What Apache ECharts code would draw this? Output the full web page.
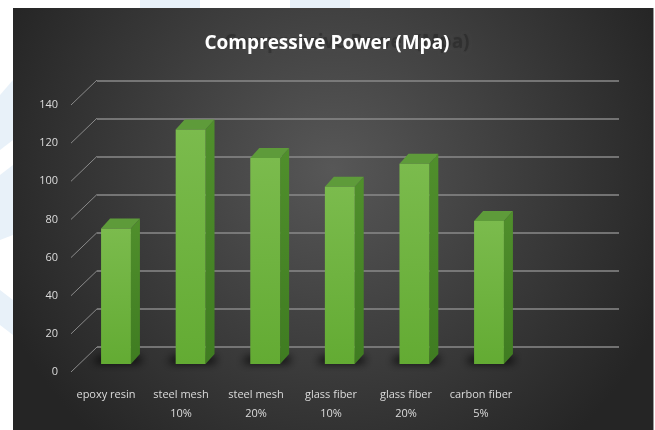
<!DOCTYPE html>
<html>
<head>
    <meta charset="utf-8">
    <title>Compressive Power (Mpa)</title>
    <script src="https://cdn.jsdelivr.net/npm/echarts@6/dist/echarts.min.js"></script>
    <style>
        html, body { margin: 0; padding: 0; background: #ffffff; }
        #chart { width: 655px; height: 430px; }
    </style>
</head>
<body>
<div id="chart"></div>
<script>
    // data
    var categories = ['epoxy resin', 'steel mesh\n10%', 'steel mesh\n20%', 'glass fiber\n10%', 'glass fiber\n20%', 'carbon fiber\n5%'];
    var values = [71, 123, 108, 93, 105, 75];
    var yTicks = [0, 20, 40, 60, 80, 100, 120, 140];

    var font = "'Open Sans', sans-serif";
    var chart = echarts.init(document.getElementById('chart'));

    // oblique depth of the floor (front edge -> back wall)
    var depthX = 26, depthY = 25;
    var barDX = 9, barDY = 10;
    var far = 2000; // shadow is drawn off-canvas and cast back, so only the blur shows

    function renderDiag(params, api) {
        var p = api.coord([0, api.value(0)]);
        return {
            type: 'line',
            shape: { x1: p[0], y1: p[1], x2: p[0] + depthX, y2: p[1] - depthY },
            style: { stroke: '#8a8a8a', lineWidth: 1 }
        };
    }

    function renderBar(params, api) {
        var base = api.coord([api.value(0), 0]);
        var top = api.coord([api.value(0), api.value(1)]);
        var w = api.size([1, 0])[0] * 0.4;
        var x0 = base[0] - w / 2, x1 = base[0] + w / 2;
        var yb = base[1], yt = top[1];
        return {
            type: 'group',
            children: [
                {   // floor shadow
                    type: 'polygon',
                    shape: { points: [[x0 - 8 + far, yb - 1], [x1 + barDX + far, yb - 1], [x1 + barDX + 2 + far, yb - barDY + 3], [x0 - 3 + far, yb - barDY + 3]] },
                    style: { fill: '#000', shadowBlur: 9, shadowColor: 'rgba(0,0,0,0.95)', shadowOffsetX: -far }
                },
                {   // side
                    type: 'polygon',
                    shape: { points: [[x1, yt], [x1 + barDX, yt - barDY], [x1 + barDX, yb - barDY], [x1, yb]] },
                    style: { fill: new echarts.graphic.LinearGradient(0, 0, 0, 1, [
                        { offset: 0, color: '#508f2c' }, { offset: 1, color: '#3f7c21' }]) }
                },
                {   // top
                    type: 'polygon',
                    shape: { points: [[x0, yt], [x0 + barDX, yt - barDY], [x1 + barDX, yt - barDY], [x1, yt]] },
                    style: { fill: '#5e9b3a' }
                },
                {   // front
                    type: 'rect',
                    shape: { x: x0, y: yt, width: w, height: yb - yt },
                    style: { fill: new echarts.graphic.LinearGradient(0, 0, 0, 1, [
                        { offset: 0, color: '#7bbb4d' }, { offset: 1, color: '#63ab33' }]) }
                }
            ]
        };
    }

    var option = {
        backgroundColor: '#ffffff',
        animation: false,
        graphic: [
            {
                type: 'rect', z: -10, silent: true,
                shape: { x: 13, y: 8, width: 640, height: 422 },
                style: { fill: new echarts.graphic.RadialGradient(0.5, 0.38, 0.85, [
                    { offset: 0, color: '#575757' }, { offset: 1, color: '#252525' }]) }
            },
            { type: 'rect', z: -10, silent: true, shape: { x: 653, y: 8, width: 1, height: 422 }, style: { fill: '#9a9a9a' } },
            // pale decorations in the white margin
            { type: 'polygon', z: -10, silent: true, shape: { points: [[0, 95], [13, 80], [13, 140], [0, 150]] }, style: { fill: '#e8f1f9' } },
            { type: 'polygon', z: -10, silent: true, shape: { points: [[0, 175], [13, 165], [13, 235], [0, 240]] }, style: { fill: '#e8f1f9' } },
            { type: 'polygon', z: -10, silent: true, shape: { points: [[0, 290], [13, 300], [13, 335], [0, 325]] }, style: { fill: '#e8f1f9' } },
            { type: 'rect', z: -10, silent: true, shape: { x: 140, y: 0, width: 60, height: 8 }, style: { fill: '#e8f1f9' } },
            { type: 'rect', z: -10, silent: true, shape: { x: 290, y: 0, width: 60, height: 8 }, style: { fill: '#e8f1f9' } }
        ],
        title: [
            {
                text: 'Compressive Power (Mpa)',
                left: 342, top: 28, textAlign: 'center', z: 1,
                textStyle: { color: 'rgba(25,25,25,0.35)', fontSize: 19, fontWeight: 'bold', fontFamily: font,
                    textShadowBlur: 3, textShadowColor: 'rgba(25,25,25,0.3)' }
            },
            {
                text: 'Compressive Power (Mpa)',
                left: 322, top: 29, textAlign: 'center', z: 5,
                textStyle: { color: '#ffffff', fontSize: 19, fontWeight: 'bold', fontFamily: font }
            }
        ],
        grid: [
            { left: 97, right: 36, top: 81, bottom: 83 },     // back wall
            { left: 71, right: 36, top: 105, bottom: 58 },    // front edge (y labels)
            { left: 78.7, right: 128.7, top: 97, bottom: 66 }, // bars
            { left: 68.5, right: 136.5, top: 105, bottom: 58 } // category labels
        ],
        xAxis: [
            { gridIndex: 0, type: 'value', min: 0, max: 1, show: false },
            { gridIndex: 1, type: 'value', min: 0, max: 1, show: false },
            { gridIndex: 2, type: 'category', data: categories, show: false },
            {
                gridIndex: 3, type: 'category', data: categories,
                axisLine: { show: false }, axisTick: { show: false }, splitLine: { show: false },
                axisLabel: { color: '#dcdcdc', fontSize: 11, fontFamily: font, lineHeight: 19, margin: 13, interval: 0 }
            }
        ],
        yAxis: [
            {
                gridIndex: 0, type: 'value', min: 0, max: 140, interval: 20,
                axisLine: { show: false }, axisTick: { show: false }, axisLabel: { show: false },
                splitLine: { show: true, lineStyle: { color: '#8a8a8a', width: 1.5 } }
            },
            {
                gridIndex: 1, type: 'value', min: 0, max: 140, interval: 20,
                axisLine: { show: false }, axisTick: { show: false }, splitLine: { show: false },
                axisLabel: { color: '#dcdcdc', fontSize: 11, fontFamily: font, margin: 13, padding: [4, 0, 0, 0] }
            },
            { gridIndex: 2, type: 'value', min: 0, max: 140, show: false },
            { gridIndex: 3, type: 'value', min: 0, max: 140, show: false }
        ],
        series: [
            {
                type: 'custom', xAxisIndex: 1, yAxisIndex: 1, silent: true,
                renderItem: renderDiag,
                data: yTicks.map(function (v) { return [v]; }),
                encode: { y: 0 }
            },
            {
                type: 'custom', xAxisIndex: 2, yAxisIndex: 2, silent: true,
                renderItem: renderBar,
                data: values.map(function (v, i) { return [i, v]; }),
                encode: { x: 0, y: 1 }
            }
        ]
    };
    chart.setOption(option);
</script>
</body>
</html>
